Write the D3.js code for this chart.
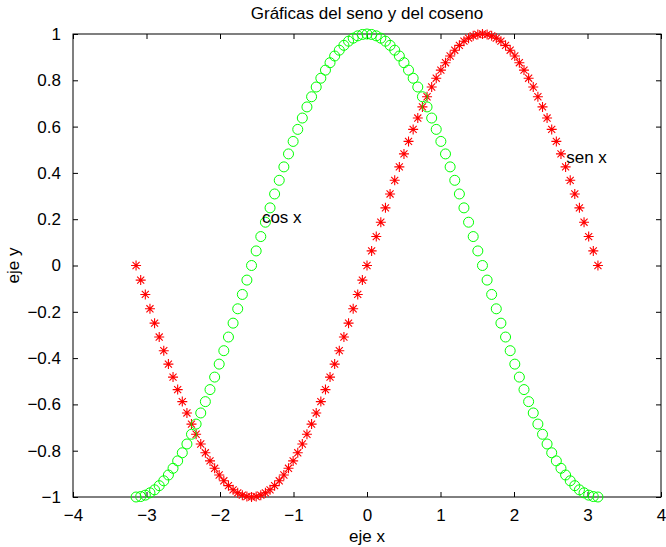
<!DOCTYPE html>
<html>
<head>
<meta charset="utf-8">
<script src="https://cdn.jsdelivr.net/npm/d3@7"></script>
<style>
  body { margin: 0; background: #fff; }
  text { font-family: "Liberation Sans", Arial, Helvetica, sans-serif; }
</style>
</head>
<body>
<div id="chart"></div>
<script>
// x samples (-pi .. pi)
var xVals = [-3.142, -3.079, -3.016, -2.953, -2.890, -2.827, -2.765, -2.702, -2.639, -2.576,
  -2.513, -2.450, -2.388, -2.325, -2.262, -2.199, -2.136, -2.073, -2.011, -1.948,
  -1.885, -1.822, -1.759, -1.696, -1.634, -1.571, -1.508, -1.445, -1.382, -1.319,
  -1.257, -1.194, -1.131, -1.068, -1.005, -0.942, -0.880, -0.817, -0.754, -0.691,
  -0.628, -0.565, -0.503, -0.440, -0.377, -0.314, -0.251, -0.188, -0.126, -0.063,
  0, 0.063, 0.126, 0.188, 0.251, 0.314, 0.377, 0.440, 0.503, 0.565,
  0.628, 0.691, 0.754, 0.817, 0.880, 0.942, 1.005, 1.068, 1.131, 1.194,
  1.257, 1.319, 1.382, 1.445, 1.508, 1.571, 1.634, 1.696, 1.759, 1.822,
  1.885, 1.948, 2.011, 2.073, 2.136, 2.199, 2.262, 2.325, 2.388, 2.450,
  2.513, 2.576, 2.639, 2.702, 2.765, 2.827, 2.890, 2.953, 3.016, 3.079, 3.142];

// sen x (red stars)
var senVals = [0, -0.063, -0.125, -0.187, -0.249, -0.309, -0.368, -0.426, -0.482, -0.536,
  -0.588, -0.637, -0.685, -0.729, -0.771, -0.809, -0.844, -0.876, -0.905, -0.930,
  -0.951, -0.969, -0.982, -0.992, -0.998, -1, -0.998, -0.992, -0.982, -0.969,
  -0.951, -0.930, -0.905, -0.876, -0.844, -0.809, -0.771, -0.729, -0.685, -0.637,
  -0.588, -0.536, -0.482, -0.426, -0.368, -0.309, -0.249, -0.187, -0.125, -0.063,
  0, 0.063, 0.125, 0.187, 0.249, 0.309, 0.368, 0.426, 0.482, 0.536,
  0.588, 0.637, 0.685, 0.729, 0.771, 0.809, 0.844, 0.876, 0.905, 0.930,
  0.951, 0.969, 0.982, 0.992, 0.998, 1, 0.998, 0.992, 0.982, 0.969,
  0.951, 0.930, 0.905, 0.876, 0.844, 0.809, 0.771, 0.729, 0.685, 0.637,
  0.588, 0.536, 0.482, 0.426, 0.368, 0.309, 0.249, 0.187, 0.125, 0.063, 0];

// cos x (green circles)
var cosVals = [-1, -0.998, -0.992, -0.982, -0.969, -0.951, -0.930, -0.905, -0.876, -0.844,
  -0.809, -0.771, -0.729, -0.685, -0.637, -0.588, -0.536, -0.482, -0.426, -0.368,
  -0.309, -0.249, -0.187, -0.125, -0.063, 0, 0.063, 0.125, 0.187, 0.249,
  0.309, 0.368, 0.426, 0.482, 0.536, 0.588, 0.637, 0.685, 0.729, 0.771,
  0.809, 0.844, 0.876, 0.905, 0.930, 0.951, 0.969, 0.982, 0.992, 0.998,
  1, 0.998, 0.992, 0.982, 0.969, 0.951, 0.930, 0.905, 0.876, 0.844,
  0.809, 0.771, 0.729, 0.685, 0.637, 0.588, 0.536, 0.482, 0.426, 0.368,
  0.309, 0.249, 0.187, 0.125, 0.063, 0, -0.063, -0.125, -0.187, -0.249,
  -0.309, -0.368, -0.426, -0.482, -0.536, -0.588, -0.637, -0.685, -0.729, -0.771,
  -0.809, -0.844, -0.876, -0.905, -0.930, -0.951, -0.969, -0.982, -0.992, -0.998, -1];

var xTicks = [-4, -3, -2, -1, 0, 1, 2, 3, 4];
var yTicks = [-1, -0.8, -0.6, -0.4, -0.2, 0, 0.2, 0.4, 0.6, 0.8, 1];

var W = 666, H = 547;
var margin = {top: 34, right: 5, bottom: 50, left: 73},
    width = W - margin.left - margin.right,
    height = H - margin.top - margin.bottom;

var svg = d3.select("#chart")
  .append("svg")
    .attr("width", W)
    .attr("height", H)
  .append("g")
    .attr("transform", "translate(" + margin.left + "," + margin.top + ")");

var x = d3.scaleLinear().domain([-4, 4]).range([0, width]);
var y = d3.scaleLinear().domain([-1, 1]).range([height, 0]);

var fmt = function(d) { return d3.format("")(d).replace("-", "\u2212"); };

// axes with inward ticks, on all four sides
svg.append("g")
  .attr("class", "axis")
  .attr("transform", "translate(0," + height + ")")
  .call(d3.axisBottom(x).tickValues(xTicks).tickSizeInner(-5).tickSizeOuter(0).tickPadding(12).tickFormat(fmt));
svg.append("g")
  .attr("class", "axis")
  .call(d3.axisTop(x).tickValues(xTicks).tickSizeInner(-5).tickSizeOuter(0).tickFormat(""));
svg.append("g")
  .attr("class", "axis")
  .call(d3.axisLeft(y).tickValues(yTicks).tickSizeInner(-5).tickSizeOuter(0).tickPadding(12).tickFormat(fmt));
svg.append("g")
  .attr("class", "axis")
  .attr("transform", "translate(" + width + ",0)")
  .call(d3.axisRight(y).tickValues(yTicks).tickSizeInner(-5).tickSizeOuter(0).tickFormat(""));

svg.selectAll(".axis .domain").remove();
svg.selectAll(".axis line").attr("stroke", "#000");
svg.selectAll(".axis text")
  .style("font-family", "'Liberation Sans', Arial, sans-serif")
  .style("font-size", "17px")
  .attr("fill", "#000");

svg.append("rect")
  .attr("width", width)
  .attr("height", height)
  .attr("fill", "none")
  .attr("stroke", "#000")
  .attr("stroke-width", 1);

var pts = xVals.map(function(v, i) { return {x: v, s: senVals[i], c: cosVals[i]}; });

// sen x : red asterisks
var r = 5, dd = r * 0.7071;
var star = "M" + (-r) + ",0H" + r + "M0," + (-r) + "V" + r +
  "M" + (-dd) + "," + (-dd) + "L" + dd + "," + dd +
  "M" + (-dd) + "," + dd + "L" + dd + "," + (-dd);
svg.append("g")
  .selectAll("path")
  .data(pts)
  .enter()
  .append("path")
    .attr("transform", function(d) { return "translate(" + x(d.x) + "," + y(d.s) + ")"; })
    .attr("d", star)
    .attr("fill", "none")
    .attr("stroke", "#ff0000")
    .attr("stroke-width", 1.1);

// cos x : green circles
svg.append("g")
  .selectAll("circle")
  .data(pts)
  .enter()
  .append("circle")
    .attr("cx", function(d) { return x(d.x); })
    .attr("cy", function(d) { return y(d.c); })
    .attr("r", 5)
    .attr("fill", "none")
    .attr("stroke", "#00ff00")
    .attr("stroke-width", 1);

// text labels placed in data units
svg.append("text")
  .attr("x", x(-1.43))
  .attr("y", y(0.21))
  .attr("dy", "0.35em")
  .style("font-size", "17px")
  .text("cos x");
svg.append("text")
  .attr("x", x(2.71))
  .attr("y", y(0.47))
  .attr("dy", "0.35em")
  .style("font-size", "17px")
  .text("sen x");

// title and axis labels
svg.append("text")
  .attr("x", width / 2)
  .attr("y", -21)
  .attr("dy", "0.35em")
  .attr("text-anchor", "middle")
  .style("font-size", "17px")
  .text("Gráficas del seno y del coseno");
svg.append("text")
  .attr("x", width / 2)
  .attr("y", height + 39)
  .attr("dy", "0.35em")
  .attr("text-anchor", "middle")
  .style("font-size", "17px")
  .text("eje x");
svg.append("text")
  .attr("transform", "translate(" + (13 - margin.left) + "," + (height / 2) + ") rotate(-90)")
  .attr("dy", "0.35em")
  .attr("text-anchor", "middle")
  .style("font-size", "17px")
  .text("eje y");
</script>
</body>
</html>
